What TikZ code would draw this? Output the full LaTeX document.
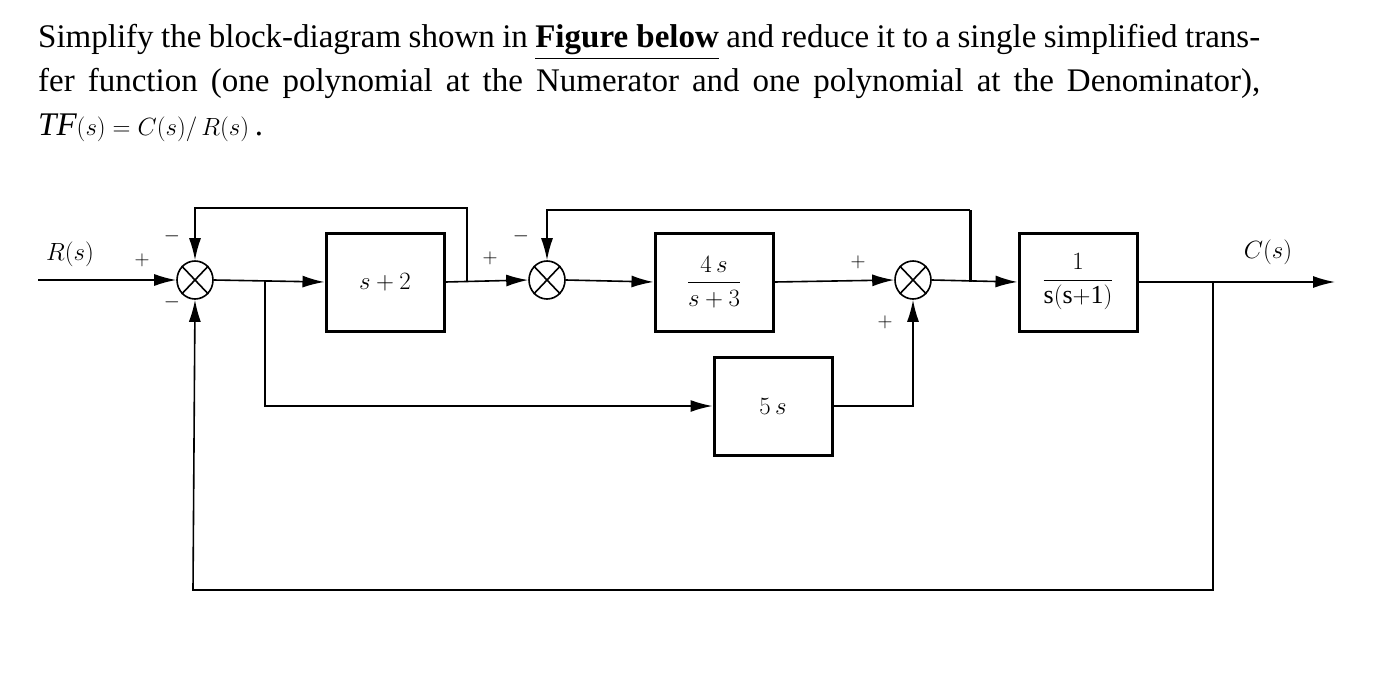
\documentclass[tikz,border=0pt]{standalone}
\usepackage{amsmath}
\usepackage{fontspec}
\setmainfont{Liberation Serif}
\usetikzlibrary{arrows.meta,shapes.geometric}
\begin{document}
\begin{tikzpicture}[x=1pt,y=-1pt,
  blk/.style={draw,line width=3pt,minimum width=118pt,minimum height=98pt,inner sep=0pt,font=\fontsize{26}{28}\selectfont},
  sumn/.style={draw,line width=1.6pt,ellipse,minimum width=36pt,minimum height=38pt,inner sep=0pt},
  ln/.style={line width=1.6pt},
  ar/.style={ln,-{Latex[length=22pt,width=12pt]}},
  sg/.style={font=\fontsize{22}{22}\selectfont},
  lab/.style={font=\fontsize{28}{28}\selectfont}]
\useasboundingbox (0,0) rectangle (1388,682);
\node[anchor=north west,text width=1222pt,align=justify,inner sep=0pt,font=\fontsize{33}{44}\selectfont] (title) at (38,24)
{Simplify the block-diagram shown in \textbf{\underline{Figure below}} and reduce it to a single simplified transfer function (one polynomial at the Numerator and one polynomial at the Denominator), $\mathit{TF}(s)=C(s)/\,R(s)$\,.};
% sums
\node[sumn] (s1) at (195,280) {};
\node[sumn] (s2) at (547,280) {};
\node[sumn] (s3) at (913,280) {};
\foreach \n in {s1,s2,s3}{
 \draw[line width=1.6pt] (\n.north east) -- (\n.south west) (\n.north west) -- (\n.south east);}
% blocks
\node[blk] (b1) at (385,282) {$s+2$};
\node[blk] (b2) at (714,282) {$\dfrac{4\,s}{s+3}$};
\node[blk] (b3) at (773,406) {$5\,s$};
\node[blk] (b4) at (1078,282) {$\dfrac{1}{\mathrm{s(s{+}1)}}$};
% coordinates
\coordinate (in) at (38,280);
\coordinate (p1) at (265,280);
\coordinate (p2) at (467,282);
\coordinate (p3) at (970,282);
\coordinate (p4) at (1213,282);
\coordinate (out) at (1335,282);
% connectors
\draw[ar] (in) -- (s1.west);
\draw[ar] (s1.east) -- (b1.west);
\draw[ar] (p1) |- (b3.west);
\draw[ar] (b1.east) -- (s2.west);
\draw[ar] (p2) -- (467,208) -| (s1.north);
\draw[ar] (s2.east) -- (b2.west);
\draw[ar] (b2.east) -- (s3.west);
\draw[ar] (b3.east) -| (s3.south);
\draw[ar] (s3.east) -- (b4.west);
\draw[line width=3pt] (p3) -- (970,210);
\draw[ar] (970,210) -| (s2.north);
\draw[ar] (b4.east) -- (out);
\draw[ar] (p4) |- (193,590) -- (s1.south);
% labels
\node[lab] (r) at (70,254) {$R(s)$};
\node[lab] (c) at (1268,252) {$C(s)$};
\node[sg] (m1) at (142,260) {$+$};
\node[sg] (m2) at (172,236) {$-$};
\node[sg] (m3) at (172,302) {$-$};
\node[sg] (m4) at (490,258) {$+$};
\node[sg] (m5) at (521,236) {$-$};
\node[sg] (m6) at (858,262) {$+$};
\node[sg] (m7) at (885,322) {$+$};
\end{tikzpicture}
\end{document}
